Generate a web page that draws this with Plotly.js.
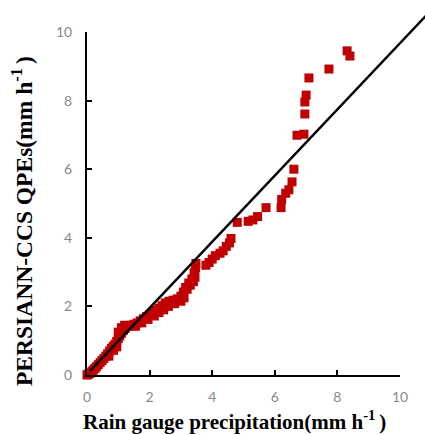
<!DOCTYPE html>
<html>
<head>
<meta charset="utf-8">
<script src="https://cdn.plot.ly/plotly-3.0.1.min.js"></script>
<style>body{margin:0;padding:0;background:#fff;}#chart{width:425px;height:435px;}</style>
</head>
<body>
<div id="chart"></div>
<script>
// Rain gauge precipitation (x) vs PERSIANN-CCS QPEs (y), mm/h
var gaugeX = [0.00,0.02,0.05,0.08,0.12,0.16,0.20,0.25,0.30,0.36,0.42,0.48,0.54,0.60,0.66,0.70,0.72,0.78,0.84,0.85,0.90,0.95,0.95,1.00,1.00,1.05,1.10,1.10,1.16,1.20,1.22,1.30,1.40,1.50,1.55,1.60,1.70,1.75,1.80,1.90,1.95,2.00,2.10,2.15,2.20,2.30,2.30,2.40,2.45,2.50,2.60,2.62,2.75,2.80,2.88,3.00,3.00,3.08,3.10,3.15,3.20,3.25,3.30,3.35,3.40,3.42,3.45,3.47,3.48,3.80,3.90,4.00,4.10,4.25,4.35,4.45,4.55,4.60,4.80,5.15,5.30,5.45,5.72,6.20,6.22,6.35,6.45,6.55,6.61,6.71,6.93,6.96,6.96,7.00,7.09,7.73,8.31,8.40];
var qpeY   = [0.00,0.01,0.03,0.05,0.06,0.10,0.14,0.19,0.24,0.30,0.36,0.42,0.48,0.55,0.62,0.55,0.70,0.78,0.84,0.72,0.90,0.98,0.82,1.06,1.25,1.14,1.22,1.38,1.30,1.45,1.36,1.42,1.45,1.48,1.42,1.52,1.58,1.52,1.64,1.70,1.62,1.76,1.82,1.72,1.88,1.95,1.82,2.02,1.90,2.10,2.00,2.15,2.18,2.08,2.22,2.30,2.15,2.42,2.25,2.55,2.50,2.68,2.62,2.80,2.72,2.98,2.85,3.12,3.25,3.20,3.28,3.38,3.48,3.55,3.62,3.75,3.85,3.98,4.45,4.48,4.52,4.62,4.88,4.88,5.12,5.30,5.40,5.63,6.00,6.99,7.02,7.61,7.96,8.16,8.66,8.92,9.45,9.30];
// reference line (as drawn in the figure)
var lineX = [0.1, 11.0];
var lineY = [0.12, 10.64];
var tickVals = [0, 2, 4, 6, 8, 10];
var tickText = ['0', '2', '4', '6', '8', '10'];
var xTitle = '<b>Rain gauge precipitation(mm h<sup>-1 </sup>)</b>';
var yTitle = '<b>PERSIANN-CCS QPEs(mm h<sup>-1 </sup>)</b>';

var W = 425, H = 435, ML = 87, MB = 60;
var plotW = 400 - ML, plotH = 375 - 32;     // main axes size in px
var areaW = W - ML, areaH = H - MB;         // full paper area

var traces = [
  {
    x: gaugeX, y: qpeY, type: 'scatter', mode: 'markers',
    marker: {symbol: 'square', size: 9, color: '#C00000'},
    cliponaxis: false, hoverinfo: 'skip', xaxis: 'x', yaxis: 'y'
  },
  {
    x: lineX, y: lineY, type: 'scatter', mode: 'lines',
    line: {color: '#000000', width: 2.5},
    hoverinfo: 'skip', xaxis: 'x2', yaxis: 'y2'
  }
];

var tickFont = {family: 'Lato, "Open Sans", sans-serif', size: 14, color: '#888888'};
var titleFamily = '"Liberation Serif", "Times New Roman", serif';

var layout = {
  width: W, height: H,
  margin: {l: ML, r: 0, t: 0, b: MB},
  paper_bgcolor: '#ffffff', plot_bgcolor: 'rgba(0,0,0,0)',
  showlegend: false,
  xaxis: {
    domain: [0, plotW / areaW], range: [0, 10], tickvals: tickVals, ticktext: tickText,
    showgrid: false, zeroline: false, showline: true, linecolor: '#000', linewidth: 2,
    ticks: 'inside', ticklen: 5, tickwidth: 2, tickcolor: '#000',
    tickfont: tickFont, ticklabelstandoff: 8, anchor: 'y'
  },
  yaxis: {
    domain: [0, plotH / areaH], range: [0, 10], tickvals: tickVals, ticktext: tickText,
    showgrid: false, zeroline: false, showline: true, linecolor: '#000', linewidth: 2,
    ticks: 'inside', ticklen: 5, tickwidth: 2, tickcolor: '#000',
    tickfont: tickFont, ticklabelstandoff: 10, anchor: 'x'
  },
  xaxis2: {
    domain: [0, 1], range: [0, 10 * areaW / plotW], anchor: 'y2',
    visible: false, fixedrange: true
  },
  yaxis2: {
    domain: [0, 1], range: [0, 10 * areaH / plotH], anchor: 'x2',
    visible: false, fixedrange: true
  },
  annotations: [
    {
      text: xTitle, xref: 'paper', yref: 'paper',
      x: (234 - ML) / areaW, y: (areaH - 420) / areaH,
      xanchor: 'center', yanchor: 'middle', showarrow: false,
      font: {family: titleFamily, size: 21, color: '#000'}
    },
    {
      text: yTitle, xref: 'paper', yref: 'paper', textangle: -90,
      x: (22 - ML) / areaW, y: (areaH - 221) / areaH,
      xanchor: 'center', yanchor: 'middle', showarrow: false,
      font: {family: titleFamily, size: 23.5, color: '#000'}
    }
  ]
};

Plotly.newPlot('chart', traces, layout, {staticPlot: true, displayModeBar: false});
</script>
</body>
</html>
